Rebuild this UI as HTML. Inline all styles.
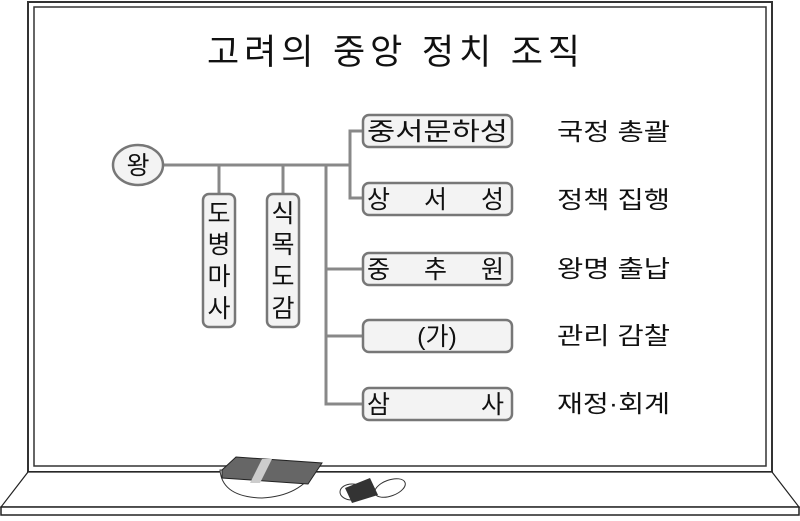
<!DOCTYPE html>
<html><head><meta charset="utf-8"><style>
body{margin:0;background:#fff}
svg text{font-family:"Liberation Sans","Noto Sans CJK KR",sans-serif;fill:#111}
</style></head><body>
<svg width="800" height="516" viewBox="0 0 800 516" xmlns="http://www.w3.org/2000/svg">
<rect x="28" y="2" width="744" height="470" fill="#fff" stroke="#333" stroke-width="2"/>
<rect x="34" y="7" width="732" height="459" fill="#fff" stroke="#333" stroke-width="1.5"/>
<polygon points="28,472 772,472 799,507 1,507" fill="#fff" stroke="#222" stroke-width="1.2"/>
<rect x="1" y="507" width="798" height="8" fill="#fff" stroke="#222" stroke-width="1.5"/>
<text x="207" y="64" font-size="35" textLength="373" lengthAdjust="spacing">고려의 중앙 정치 조직</text>
<g stroke="#888" stroke-width="3" fill="none">
<line x1="163" y1="165" x2="350" y2="165"/>
<polyline points="363,131 350,131 350,198 363,198"/>
<line x1="219" y1="165" x2="219" y2="194"/>
<line x1="283" y1="165" x2="283" y2="194"/>
<polyline points="326,165 326,404 363,404"/>
<line x1="326" y1="269" x2="363" y2="269"/>
<line x1="326" y1="336" x2="363" y2="336"/>
</g>
<g stroke="#777" stroke-width="2.5" fill="#f3f3f3">
<ellipse cx="138" cy="165" rx="25" ry="20"/>
<rect x="203" y="194" width="32" height="133" rx="6"/>
<rect x="267" y="194" width="32" height="133" rx="6"/>
<rect x="363" y="115" width="149" height="32" rx="6"/>
<rect x="363" y="183" width="149" height="32" rx="6"/>
<rect x="363" y="253" width="149" height="32" rx="6"/>
<rect x="363" y="320" width="149" height="32" rx="6"/>
<rect x="363" y="388" width="149" height="32" rx="6"/>
</g>
<g font-size="25">
<text x="138" y="174" text-anchor="middle">왕</text>
<text x="219" y="222" text-anchor="middle">도</text>
<text x="219" y="253" text-anchor="middle">병</text>
<text x="219" y="285" text-anchor="middle">마</text>
<text x="219" y="317" text-anchor="middle">사</text>
<text x="283" y="222" text-anchor="middle">식</text>
<text x="283" y="253" text-anchor="middle">목</text>
<text x="283" y="285" text-anchor="middle">도</text>
<text x="283" y="317" text-anchor="middle">감</text>
<text x="367" y="140" textLength="141" lengthAdjust="spacingAndGlyphs">중서문하성</text>
<text x="367" y="208">상</text><text x="424" y="208">서</text><text x="481" y="208">성</text>
<text x="367" y="278">중</text><text x="424" y="278">추</text><text x="481" y="278">원</text>
<text x="437" y="345" text-anchor="middle">(가)</text>
<text x="367" y="413">삼</text><text x="481" y="413">사</text>
</g>
<g font-size="24">
<text x="557" y="140" textLength="113" lengthAdjust="spacingAndGlyphs">국정 총괄</text>
<text x="557" y="208" textLength="113" lengthAdjust="spacingAndGlyphs">정책 집행</text>
<text x="557" y="277" textLength="113" lengthAdjust="spacingAndGlyphs">왕명 출납</text>
<text x="557" y="344" textLength="113" lengthAdjust="spacingAndGlyphs">관리 감찰</text>
<text x="557" y="412" textLength="113" lengthAdjust="spacingAndGlyphs">재정·회계</text>
</g>
<path d="M220,470 Q222,497 262,498 Q300,496 315,470 Z" fill="#fff" stroke="#333"/>
<polygon points="222,470 236,457 322,463 308,484 222,478" fill="#666" stroke="#222"/>
<polygon points="262,459 272,459 260,483 250,483" fill="#ccc"/>
<ellipse cx="352" cy="492" rx="12" ry="8" fill="#fff" stroke="#333"/>
<ellipse cx="390" cy="488" rx="16" ry="8" fill="#fff" stroke="#333" transform="rotate(-20 390 488)"/>
<polygon points="345,488 370,478 378,495 352,503" fill="#333"/>
</svg>
</body></html>
